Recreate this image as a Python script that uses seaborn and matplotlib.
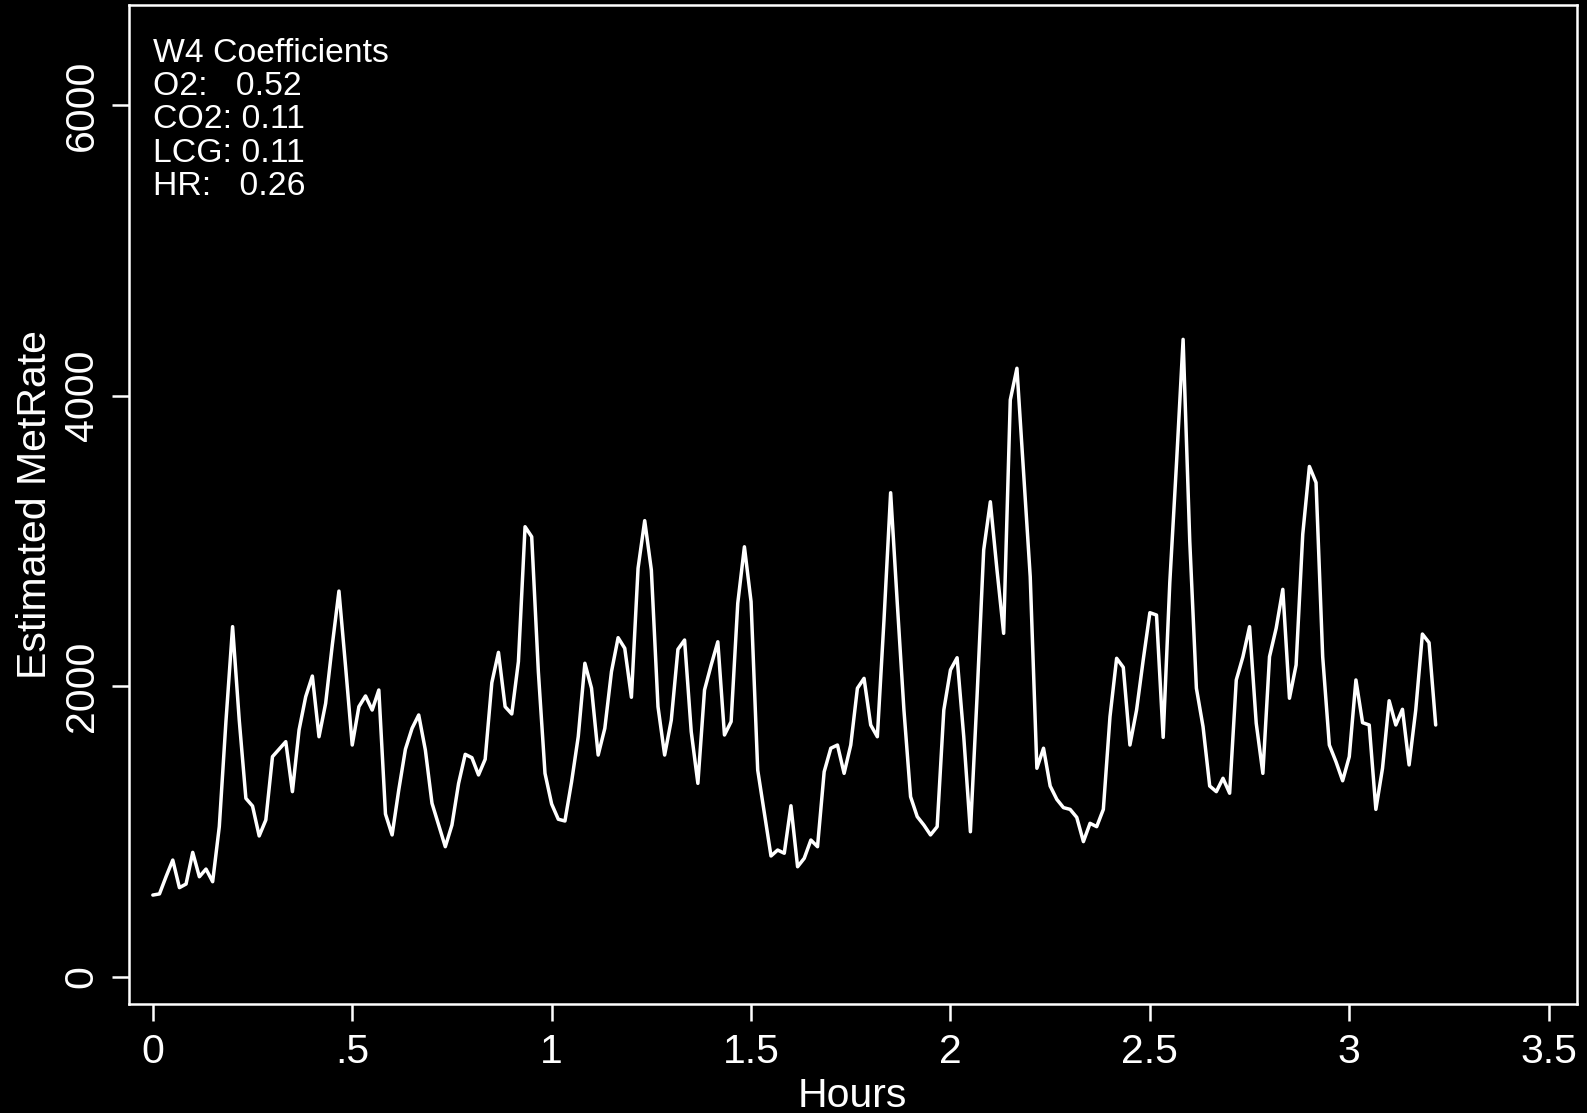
import numpy as np
import pandas as pd
import matplotlib
matplotlib.use("Agg")
import matplotlib.pyplot as plt
import seaborn as sns

# Estimated metabolic rate, one reading per minute
metrate = [
    562, 570, 690, 803, 613, 638, 856, 688, 741, 654,
    1033, 1758, 2410, 1767, 1228, 1175, 969, 1079, 1515, 1566,
    1618, 1274, 1699, 1928, 2070, 1652, 1882, 2284, 2655, 2134,
    1595, 1859, 1933, 1836, 1974, 1120, 976, 1286, 1566, 1710,
    1802, 1561, 1194, 1044, 895, 1044, 1331, 1531, 1508, 1389,
    1497, 2024, 2233, 1859, 1809, 2169, 3098, 3029, 2100, 1400,
    1189, 1084, 1072, 1342, 1652, 2158, 1986, 1526, 1710, 2100,
    2334, 2261, 1924, 2812, 3140, 2800, 1859, 1526, 1767, 2254,
    2318, 1687, 1331, 1974, 2146, 2306, 1664, 1756, 2571, 2960,
    2582, 1423, 1125, 831, 872, 850, 1177, 757, 815, 941,
    895, 1411, 1573, 1595, 1400, 1595, 1986, 2054, 1733, 1652,
    2456, 3332, 2571, 1836, 1239, 1102, 1044, 976, 1033, 1836,
    2112, 2196, 1652, 998, 1928, 2938, 3270, 2800, 2364, 3971,
    4189, 3477, 2754, 1435, 1573, 1313, 1221, 1164, 1152, 1097,
    930, 1056, 1033, 1152, 1790, 2192, 2130, 1595, 1836, 2181,
    2506, 2490, 1648, 2715, 3528, 4388, 3000, 1986, 1721, 1313,
    1274, 1366, 1263, 2043, 2203, 2410, 1745, 1400, 2203, 2399,
    2667, 1917, 2146, 3046, 3513, 3402, 2203, 1595, 1480, 1349,
    1515, 2043, 1749, 1733, 1152, 1435, 1900, 1733, 1841, 1458,
    1836, 2359, 2300, 1733,
]
minutes = np.arange(len(metrate))
hours = minutes / 60.0

x_ticks = [0, 0.5, 1, 1.5, 2, 2.5, 3, 3.5]
x_tick_labels = ["0", ".5", "1", "1.5", "2", "2.5", "3", "3.5"]
y_ticks = [0, 2000, 4000, 6000]
y_tick_labels = ["0", "2000", "4000", "6000"]

coef_title = "W4 Coefficients"
coef_lines = ["O2:   0.52", "CO2: 0.11", "LCG: 0.11", "HR:   0.26"]

sns.set_theme(style="white")
plt.rcParams["font.family"] = ["Liberation Sans", "DejaVu Sans"]

W, H = 1587, 1113
fig = plt.figure(figsize=(W / 100, H / 100), dpi=100, facecolor="black")
left, right, top, bottom = 128.5, 1577, 5, 1004
ax = fig.add_axes([left / W, 1 - bottom / H, (right - left) / W, (bottom - top) / H])
ax.set_facecolor("black")

df = pd.DataFrame({"Hours": hours, "Estimated MetRate": metrate})
sns.lineplot(data=df, x="Hours", y="Estimated MetRate", color="white",
             linewidth=2.5, ax=ax)

ax.set_xlim(-0.061, 3.571)
ax.set_ylim(-188, 6690)
ax.set_xticks(x_ticks)
ax.set_xticklabels(x_tick_labels)
ax.set_yticks(y_ticks)
ax.set_yticklabels(y_tick_labels, rotation=90, va="center")

for side in ["left", "right", "top", "bottom"]:
    ax.spines[side].set_visible(True)
    ax.spines[side].set_color("white")
    ax.spines[side].set_linewidth(1.8)

ax.tick_params(axis="both", colors="white", labelcolor="white", labelsize=29.5,
               length=12, width=1.8, direction="out")
ax.tick_params(axis="x", pad=9, bottom=True)
ax.tick_params(axis="y", pad=8, left=True)

ax.set_xlabel("Hours", fontsize=29.5, color="white")
ax.set_ylabel("Estimated MetRate", fontsize=29.5, color="white")
ax.xaxis.set_label_coords(0.5, -0.073)
ax.yaxis.set_label_coords(-0.0515, 0.5)

# coefficient block in the upper-left corner
text_x = 153.3
baselines = [61.7, 95.0, 128.3, 161.7, 195.0]
for line, yb in zip([coef_title] + coef_lines, baselines):
    fig.text(text_x / W, 1 - yb / H, line, color="white", fontsize=24.3,
             ha="left", va="baseline")

fig.savefig("out.png", dpi=100, facecolor="black")
